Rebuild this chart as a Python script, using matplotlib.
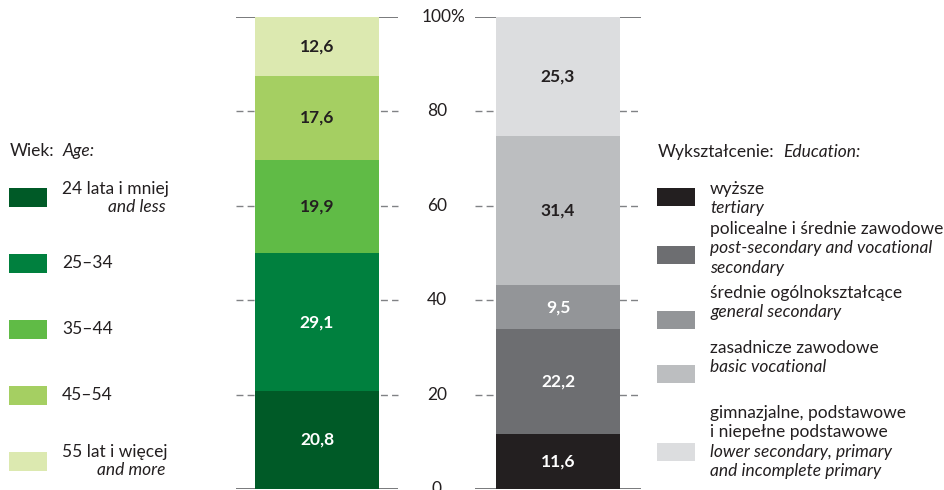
import matplotlib
matplotlib.use("Agg")
import matplotlib.pyplot as plt
from matplotlib.patches import Rectangle

plt.rcParams['font.family'] = ['Lato', 'DejaVu Sans']

# ---- data ----
age_labels_pl = ["24 lata i mniej", "25–34", "35–44", "45–54", "55 lat i więcej"]
age_labels_en = ["and less", "", "", "", "and more"]
age_values = [20.8, 29.1, 19.9, 17.6, 12.6]
age_colors = ["#005a27", "#00803e", "#60bb46", "#a5cf62", "#dce9b0"]
age_text_colors = ["white", "white", "#231f20", "#231f20", "#231f20"]

edu_labels_pl = ["wyższe", "policealne i średnie zawodowe", "średnie ogólnokształcące",
                 "zasadnicze zawodowe", "gimnazjalne, podstawowe\ni niepełne podstawowe"]
edu_labels_en = ["tertiary", "post-secondary and vocational\nsecondary", "general secondary",
                 "basic vocational", "lower secondary, primary\nand incomplete primary"]
edu_values = [11.6, 22.2, 9.5, 31.4, 25.3]
edu_colors = ["#231f20", "#6d6e71", "#939598", "#bcbec0", "#dcdddf"]
edu_text_colors = ["white", "white", "white", "#231f20", "#231f20"]

yticks = [0, 20, 40, 60, 80, 100]
ytick_labels = ["0", "20", "40", "60", "80", "100%"]

W, H = 945, 490
fig = plt.figure(figsize=(W / 100, H / 100), dpi=100)
ax = fig.add_axes([0, 1 / H, 1, 472 / H])
ax.set_xlim(0, W)
ax.set_ylim(0, 100)
ax.axis("off")

DARK = "#231f20"
LINE = "#6d6e71"
FS = 12.5

bars = [(317, age_values, age_colors, age_text_colors, 236, 398),
        (558, edu_values, edu_colors, edu_text_colors, 475, 641)]
for xc, vals, cols, tcols, x0, x1 in bars:
    for t in yticks:
        if t in (0, 100):
            ax.plot([x0, x1], [t, t], color=LINE, lw=1.3, zorder=1, solid_capstyle='butt')
        else:
            ax.plot([x0, x1], [t, t], color="#808285", lw=1.0, ls=(0, (5, 3)), zorder=1)
    bottom = 0
    for v, c, tc in zip(vals, cols, tcols):
        ax.bar(xc, v, width=124, bottom=bottom, color=c, zorder=2, linewidth=0)
        ax.text(xc, bottom + v / 2, f"{v:.1f}".replace(".", ","), ha="center", va="center",
                fontsize=FS, fontweight="bold", color=tc, zorder=3)
        bottom += v

for t, lab in zip(yticks, ytick_labels):
    if t == 100:
        ax.text(422, t, lab, ha="left", va="center", fontsize=FS, color=DARK)
    else:
        ax.text(437, t, lab, ha="center", va="center", fontsize=FS, color=DARK)


def fx(x):
    return x / W


def fy(y):
    return 1 - y / H


def title_pair(x, y, pl, en):
    t1 = fig.text(fx(x), fy(y), pl, fontsize=FS, color=DARK, va="center", ha="left")
    ax.annotate(en, xy=(1, 0.5), xycoords=t1, xytext=(6, 0), textcoords="offset points",
                fontsize=FS, color=DARK, va="center", ha="left", style="italic",
                annotation_clip=False)


# ---- age legend ----
title_pair(10, 151, "Wiek:", "Age:")
age_sw_y = [197.5, 263.5, 329.5, 395, 461]
for i, (pl, en, c) in enumerate(zip(age_labels_pl, age_labels_en, age_colors)):
    yc = age_sw_y[i]
    fig.patches.append(Rectangle((fx(9), fy(yc + 9.5)), 38 / W, 19 / H, transform=fig.transFigure,
                                 facecolor=c, edgecolor="none"))
    if en:
        fig.text(fx(62), fy(yc - 9), pl, fontsize=FS, color=DARK, va="center", ha="left")
        fig.text(fx(166), fy(yc + 9), en, fontsize=FS, color=DARK, va="center", ha="right",
                 style="italic")
    else:
        fig.text(fx(62), fy(yc), pl, fontsize=FS, color=DARK, va="center", ha="left")

# ---- education legend ----
title_pair(658, 152, "Wykształcenie:", "Education:")
edu_sw_y = [197, 255, 320, 374, 452]
edu_pl_y = [189, 229, 293, 348, 413]
LH = 19.3
for i, (pl, en, c) in enumerate(zip(edu_labels_pl, edu_labels_en, edu_colors)):
    yc = edu_sw_y[i]
    fig.patches.append(Rectangle((fx(657), fy(yc + 9)), 38 / W, 18 / H, transform=fig.transFigure,
                                 facecolor=c, edgecolor="none"))
    y = edu_pl_y[i]
    for line in pl.split("\n"):
        fig.text(fx(710), fy(y), line, fontsize=FS, color=DARK, va="center", ha="left")
        y += LH
    for line in en.split("\n"):
        fig.text(fx(710), fy(y), line, fontsize=FS, color=DARK, va="center", ha="left",
                 style="italic")
        y += LH

fig.savefig("out.png", dpi=100)
